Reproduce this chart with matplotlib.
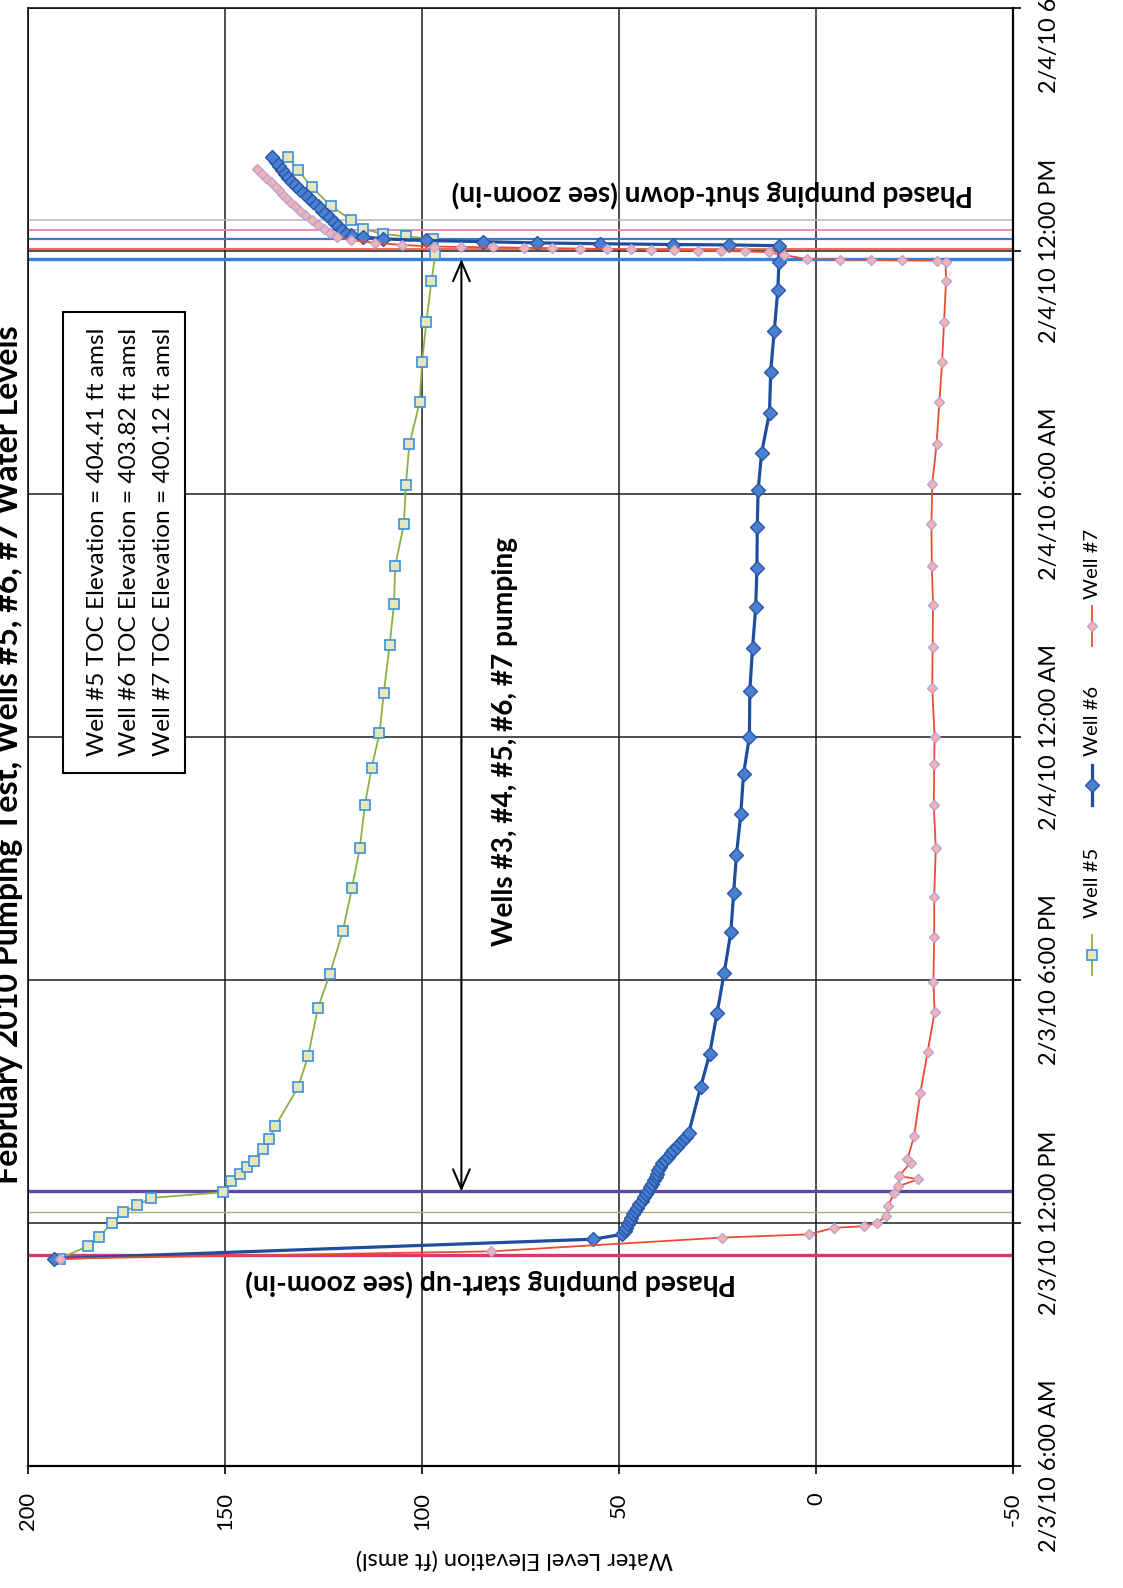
import matplotlib
matplotlib.use("Agg")
import matplotlib.pyplot as plt
from matplotlib.lines import Line2D
from matplotlib.patches import Rectangle

FONT = ['Lato', 'DejaVu Sans']
plt.rcParams['font.family'] = FONT

# ---------------- data ----------------
title = "February 2010 Pumping Test, Wells #5, #6, #7 Water Levels"
y_label = "Water Level Elevation (ft amsl)"
time_ticks = [0, 6, 12, 18, 24, 30, 36]          # hours since 2/3/10 6:00 AM
time_labels = ["2/3/10 6:00 AM", "2/3/10 12:00 PM", "2/3/10 6:00 PM",
               "2/4/10 12:00 AM", "2/4/10 6:00 AM", "2/4/10 12:00 PM",
               "2/4/10 6:00 PM"]
level_ticks = [200, 150, 100, 50, 0, -50]
level_labels = ["200", "150", "100", "50", "0", "-50"]

well5_h = [5.12, 5.43, 5.65, 6.00, 6.26, 6.44, 6.62, 6.76, 7.04, 7.20, 7.38, 7.53, 7.82, 8.07,
           8.40, 9.36, 10.13, 11.31, 12.15, 13.20, 14.26, 15.25, 16.32, 17.23, 18.09, 19.08,
           20.28, 21.29, 22.23, 23.25, 24.23, 25.23, 26.26, 27.25, 28.24, 29.26, 29.93, 30.30,
           30.36, 30.42, 30.55, 30.77, 31.10, 31.58, 32.00, 32.33]
well5_v = [192.0, 184.8, 182.1, 178.6, 175.9, 172.3, 168.7, 150.5, 148.4, 146.3, 144.3, 142.6,
           140.4, 138.8, 137.2, 131.4, 128.9, 126.4, 123.4, 120.1, 117.8, 115.8, 114.5, 112.8,
           110.8, 109.7, 108.2, 107.1, 106.8, 104.6, 104.1, 103.2, 100.6, 100.0, 98.9, 97.6,
           96.6, 97.3, 104.0, 110.0, 115.0, 118.0, 123.0, 128.0, 131.5, 134.0]

well6_h = [5.12, 5.60, 5.72, 5.80, 5.88, 5.97, 6.05, 6.13, 6.22, 6.30, 6.38, 6.47, 6.55, 6.63,
           6.72, 6.80, 6.88, 6.97, 7.05, 7.13, 7.22, 7.30, 7.38, 7.47, 7.55, 7.63, 7.72, 7.80,
           7.88, 7.97, 8.05, 8.13, 8.22, 9.35, 10.17, 11.19, 12.18, 13.19, 14.16, 15.08, 16.09,
           17.08, 18.01, 19.14, 20.20, 21.21, 22.18, 23.19, 24.09, 25.02, 26.01, 27.02, 28.02,
           29.03, 29.73, 30.13, 30.15, 30.16, 30.18, 30.20, 30.23, 30.26, 30.30, 30.35, 30.40,
           30.50, 30.60, 30.70, 30.80, 30.90, 31.00, 31.10, 31.20, 31.30, 31.40, 31.50, 31.60,
           31.70, 31.80, 31.90, 32.00, 32.10, 32.20, 32.33]
well6_v = [193.4, 56.5, 49.2, 48.6, 48.1, 47.6, 47.2, 46.9, 46.4, 45.9, 45.4, 44.8, 44.2, 43.7,
           43.1, 42.6, 42.1, 41.6, 41.1, 40.7, 40.3, 40.0, 39.6, 39.0, 38.3, 37.6, 36.9, 36.2,
           35.4, 34.6, 33.8, 33.0, 32.3, 29.3, 27.0, 25.1, 23.3, 21.6, 20.9, 20.2, 19.1, 18.4,
           16.9, 16.8, 16.1, 15.3, 15.0, 14.9, 14.7, 13.8, 11.8, 11.5, 10.6, 9.7, 9.4, 9.5,
           22.0, 36.4, 54.7, 70.7, 84.5, 99.0, 110.0, 115.0, 118.0, 120.0, 121.0, 122.0, 123.0,
           124.2, 125.4, 126.5, 127.6, 128.7, 129.8, 130.9, 132.0, 133.0, 133.9, 134.7, 135.5,
           136.3, 137.1, 138.0]

well7_h = [5.12, 5.30, 5.64, 5.72, 5.88, 5.92, 6.00, 6.17, 6.42, 6.75, 6.91, 7.08, 7.16, 7.49,
           7.57, 8.15, 9.22, 10.21, 11.20, 11.96, 13.05, 14.05, 15.25, 16.32, 17.33, 18.01,
           19.21, 20.22, 21.27, 22.22, 23.25, 24.24, 25.23, 26.26, 27.25, 28.24, 29.27, 29.73,
           29.76, 29.77, 29.78, 29.79, 29.80, 29.90, 29.97, 29.99, 30.00, 30.01, 30.02, 30.03,
           30.04, 30.05, 30.06, 30.07, 30.08, 30.09, 30.10, 30.11, 30.15, 30.20, 30.27, 30.35,
           30.45, 30.55, 30.65, 30.77, 30.90, 31.00, 31.10, 31.20, 31.30, 31.40, 31.50, 31.58,
           31.70, 31.80, 31.90, 32.03]
well7_v = [192.0, 82.4, 23.8, 1.8, -4.5, -12.1, -15.5, -17.8, -18.3, -19.9, -20.9, -26.0, -21.1,
           -24.0, -23.2, -24.9, -26.5, -28.3, -30.1, -29.8, -30.0, -30.0, -30.4, -29.9, -30.0,
           -30.1, -29.5, -29.6, -29.7, -29.4, -29.3, -29.5, -30.6, -31.3, -32.0, -32.5, -33.0,
           -32.9, -30.8, -21.9, -13.9, -6.2, 2.4, 8.0, 12.0, 18.0, 24.0, 30.0, 36.0, 42.0,
           47.0, 53.0, 60.0, 67.0, 74.0, 82.0, 90.0, 97.0, 105.0, 112.0, 118.0, 121.5, 123.3,
           125.0, 126.5, 128.0, 129.8, 131.0, 132.2, 133.4, 134.5, 135.5, 136.4, 137.0, 138.4,
           139.6, 140.5, 141.8]

series_names = ["Well #5", "Well #6", "Well #7"]
# phased start-up / shut-down marker times (hours since 2/3/10 6:00 AM)
event_times = [5.21, 6.26, 6.78, 29.80, 30.04, 30.29, 30.53, 30.77]
toc_lines = ["Well #5 TOC Elevation = 404.41 ft amsl",
             "Well #6 TOC Elevation = 403.82 ft amsl",
             "Well #7 TOC Elevation = 400.12 ft amsl"]
startup_text = "Phased pumping start-up (see zoom-in)"
shutdown_text = "Phased pumping shut-down (see zoom-in)"
pumping_text = "Wells #3, #4, #5, #6, #7 pumping"
pumping_span = (6.78, 29.80)
arrow_level = 90

# ---------------- styles ----------------
event_colors = ['#d63a6e', '#a3b277', '#5e4a9e', '#2f82e0', '#e8705e', '#3a78cc', '#e889a0', '#b4b8ac']
event_widths = [2.4, 1.0, 2.4, 2.4, 1.5, 1.6, 1.3, 1.1]
styles = [
    dict(color='#8db041', lw=1.3, marker='s', ms=6.5, mfc='#e6e8bc', mec='#3d8fe0', mew=1.2),
    dict(color='#1f4e9e', lw=2.3, marker='D', ms=7.5, mfc='#4a80d0', mec='#2856a8', mew=1.0),
    dict(color='#ea4b32', lw=1.3, marker='D', ms=5.5, mfc='#f3b4ac', mec='#b9a2dc', mew=1.0),
]

W, H = 1123, 1588
fig = plt.figure(figsize=(W / 100, H / 100), dpi=100)
renderer = fig.canvas.get_renderer()


def fx(x):
    return x / W


def fy(y):
    return 1 - y / H


def fit_size(s, target_px, weight='normal'):
    t = fig.text(0, 0, s, fontsize=20, fontweight=weight)
    w = t.get_window_extent(renderer=renderer).width
    t.remove()
    return 20 * target_px / w


L, R, T, B = 28, 1013, 8, 1466
ax = fig.add_axes([fx(L), fy(B), (R - L) / W, (B - T) / H])
ax.set_xlim(200, -50)
ax.set_ylim(0, 36)
ax.set_axisbelow(True)

# gridlines
ax.grid(True, color='#1e1e1e', lw=1.1)
for sp in ax.spines.values():
    sp.set_color('black')
    sp.set_linewidth(1.1)
ax.spines['bottom'].set_linewidth(1.6)
ax.spines['right'].set_linewidth(1.6)

# event lines
for t_, c_, w_ in zip(event_times, event_colors, event_widths):
    ax.axhline(t_, color=c_, lw=w_, zorder=2)

# data series
for hs, vs, st in zip([well5_h, well6_h, well7_h], [well5_v, well6_v, well7_v], styles):
    ax.plot(vs, hs, zorder=3, **st)

# ticks
tick_fs = fit_size("200", 38)
time_fs = fit_size("2/3/10 6:00 AM", 172)
ax.set_xticks(level_ticks, labels=level_labels, rotation=90, ha='center', va='top', fontsize=tick_fs)
ax.yaxis.tick_right()
ax.set_yticks(time_ticks, labels=time_labels, rotation=90, ha='left', va='center', fontsize=time_fs)
ax.tick_params(axis='both', direction='out', length=6, width=1.2, color='black', pad=13)
ax.tick_params(left=False, top=False)

# arrow for pumping period
ax.annotate('', xy=(arrow_level, pumping_span[1]), xytext=(arrow_level, pumping_span[0]),
            arrowprops=dict(arrowstyle='<->,head_length=0.7,head_width=0.3', color='black',
                            lw=1.5, mutation_scale=20, shrinkA=0, shrinkB=0), zorder=5)

# title (partially cut off at left edge, as in the scanned page)
fig.text(fx(18), fy(755), title, rotation=90, rotation_mode='anchor', ha='center', va='baseline',
         fontweight='bold', fontsize=fit_size(title, 861, 'bold'))

# y label (upside down)
fig.text(fx(514), fy(1559), y_label, rotation=180, ha='center', va='center',
         fontsize=fit_size(y_label, 319))

# annotations
fig.text(fx(491), fy(1283), startup_text, rotation=180, ha='center', va='center',
         fontweight='bold', fontsize=fit_size(startup_text, 491, 'bold'), zorder=6)
fig.text(fx(712), fy(194), shutdown_text, rotation=180, ha='center', va='center',
         fontweight='bold', fontsize=fit_size(shutdown_text, 521, 'bold'), zorder=6)
fig.text(fx(505), fy(742), pumping_text, rotation=90, ha='center', va='center',
         fontweight='bold', fontsize=fit_size(pumping_text, 410, 'bold'), zorder=6)

# TOC box
fig.add_artist(Rectangle((fx(63), fy(773)), 122 / W, 461 / H, transform=fig.transFigure,
                         facecolor='white', edgecolor='black', lw=1.5, zorder=5))
toc_fs = fit_size(toc_lines[0], 428)
for xc, s in zip([97, 130, 163], toc_lines):
    fig.text(fx(xc), fy(756), s, rotation=90, rotation_mode='anchor', ha='left', va='center',
             fontsize=toc_fs, zorder=6)

# legend (rotated)
leg_fs = fit_size("Well #5", 70)
for name, st, ysym, ytxt in zip(series_names, styles, [955, 785, 626], [918, 756, 599]):
    x = fx(1092)
    ln = Line2D([x, x, x], [fy(ysym + 20), fy(ysym), fy(ysym - 20)], transform=fig.transFigure,
                markevery=[1], **st)
    fig.add_artist(ln)
    fig.text(x, fy(ytxt), name, rotation=90, rotation_mode='anchor', ha='left', va='center',
             fontsize=leg_fs)

fig.savefig("out.png", dpi=100)
